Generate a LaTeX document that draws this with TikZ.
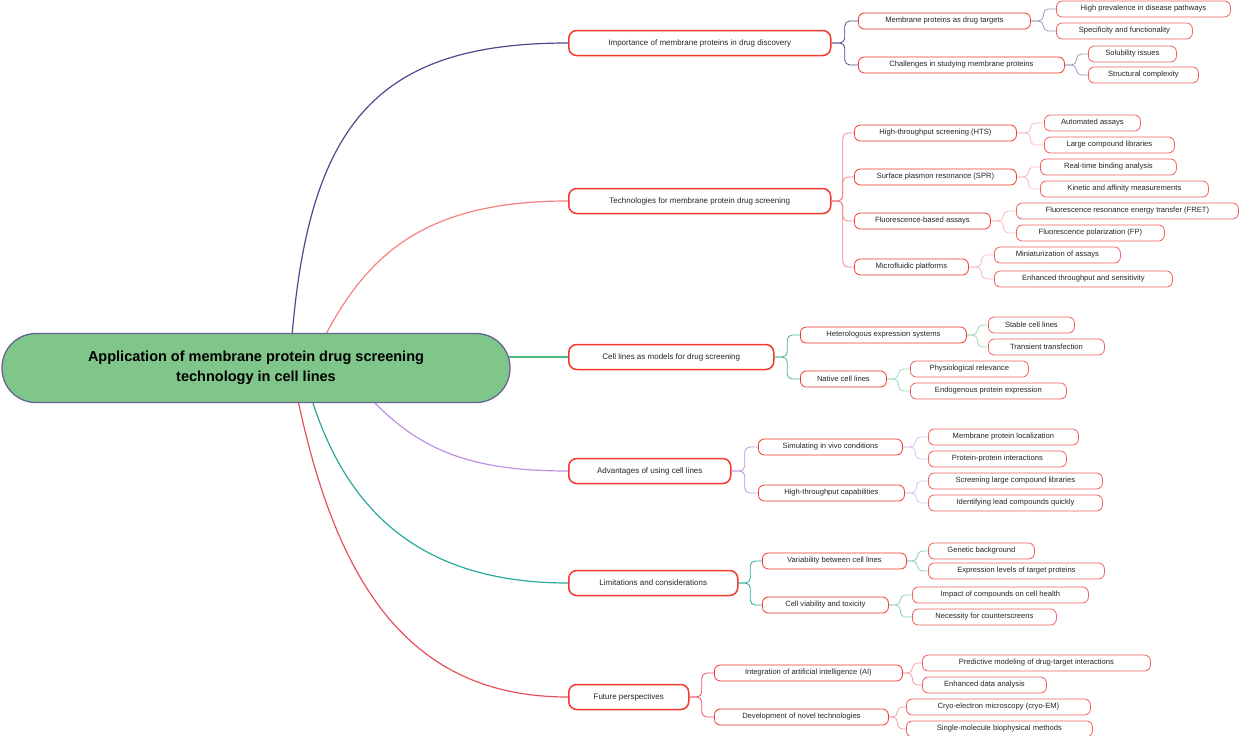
\documentclass[tikz,border=0pt]{standalone}
\usepackage{fontspec}
\setmainfont{Liberation Sans}
\usetikzlibrary{calc}
\definecolor{cA}{HTML}{4A4A8F}\definecolor{cB}{HTML}{F88080}\definecolor{cC}{HTML}{4CBB7F}
\definecolor{cD}{HTML}{C090E0}\definecolor{cE}{HTML}{2AA89A}\definecolor{cF}{HTML}{E85060}
\definecolor{bred}{HTML}{F23A2E}\definecolor{pred}{HTML}{F06060}
\tikzset{
 base/.style={anchor=west,fill=white,inner sep=1pt,font=\fontsize{7.6}{9}\selectfont,text=black!85},
 l1/.style={base,draw=bred,line width=1.5pt,rounded corners=8pt,minimum height=25pt,font=\fontsize{8}{9}\selectfont},
 l2/.style={base,draw=bred,line width=0.8pt,rounded corners=6pt,minimum height=16pt},
 l3/.style={base,draw=pred,line width=0.8pt,rounded corners=6pt,minimum height=16pt},
 root/.style={draw=black!70!blue!60,line width=1.3pt,fill=green!45!black!30!white,fill={rgb,255:red,128;green,197;blue,138},rounded corners=34pt,minimum width=508pt,minimum height=69pt,align=center,font=\fontsize{14.5}{20}\selectfont\bfseries},
 lk/.style={line width=1.2pt},
}
\newcommand\nd[6]{\node[#1,minimum width=#5pt-#3pt] (#2) at (#3,#4) {#6};}
\newcommand\br[3]{\draw[#1,line width=0.8pt,rounded corners=5pt] (#2.east) -- ($(#2.east)!0.5!(#2.east -| #3.west)$) |- (#3.west);}
\begin{document}
\begin{tikzpicture}[x=1pt,y=-1pt]
\useasboundingbox (0,0) rectangle (1240,736);
% connectors root
\draw[cA,lk] (292,336) .. controls (310,120) and (380,43) .. (568,43);
\draw[cB,lk] (325,336) .. controls (370,250) and (430,201) .. (568,201);
\draw[cC,lk] (508,357) .. controls (540,357) .. (568,357);
\draw[cD,lk] (372,400) .. controls (420,450) and (470,471) .. (568,471);
\draw[cE,lk] (312,400) .. controls (350,520) and (430,583) .. (568,583);
\draw[cF,lk] (298,400) .. controls (340,600) and (420,697) .. (568,697);
\node[root] (R) at (256,368) {Application of membrane protein drug screening\\technology in cell lines};
% level 1
\nd{l1}{A}{568}{43}{830}{Importance of membrane proteins in drug discovery}
\nd{l1}{B}{568}{201}{830}{Technologies for membrane protein drug screening}
\nd{l1}{C}{568}{357}{773}{Cell lines as models for drug screening}
\nd{l1}{D}{568}{471}{730}{Advantages of using cell lines}
\nd{l1}{E}{568}{583}{737}{Limitations and considerations}
\nd{l1}{F}{568}{697}{688}{Future perspectives}
% level 2
\nd{l2}{A1}{858}{21}{1030}{Membrane proteins as drug targets}
\nd{l2}{A2}{858}{65}{1064}{Challenges in studying membrane proteins}
\nd{l2}{B1}{854}{133}{1016}{High-throughput screening (HTS)}
\nd{l2}{B2}{854}{177}{1016}{Surface plasmon resonance (SPR)}
\nd{l2}{B3}{854}{221}{990}{Fluorescence-based assays}
\nd{l2}{B4}{854}{267}{968}{Microfluidic platforms}
\nd{l2}{C1}{800}{335}{966}{Heterologous expression systems}
\nd{l2}{C2}{800}{379}{886}{Native cell lines}
\nd{l2}{D1}{758}{447}{902}{Simulating in vivo conditions}
\nd{l2}{D2}{758}{493}{904}{High-throughput capabilities}
\nd{l2}{E1}{762}{561}{906}{Variability between cell lines}
\nd{l2}{E2}{762}{605}{888}{Cell viability and toxicity}
\nd{l2}{F1}{714}{673}{902}{Integration of artificial intelligence (AI)}
\nd{l2}{F2}{714}{717}{888}{Development of novel technologies}
% level 3
\nd{l3}{A1a}{1056}{9}{1230}{High prevalence in disease pathways}
\nd{l3}{A1b}{1056}{31}{1192}{Specificity and functionality}
\nd{l3}{A2a}{1088}{54}{1176}{Solubility issues}
\nd{l3}{A2b}{1088}{75}{1198}{Structural complexity}
\nd{l3}{B1a}{1044}{123}{1140}{Automated assays}
\nd{l3}{B1b}{1044}{145}{1174}{Large compound libraries}
\nd{l3}{B2a}{1040}{167}{1176}{Real-time binding analysis}
\nd{l3}{B2b}{1040}{189}{1208}{Kinetic and affinity measurements}
\nd{l3}{B3a}{1016}{211}{1238}{Fluorescence resonance energy transfer (FRET)}
\nd{l3}{B3b}{1016}{233}{1164}{Fluorescence polarization (FP)}
\nd{l3}{B4a}{994}{255}{1120}{Miniaturization of assays}
\nd{l3}{B4b}{994}{279}{1172}{Enhanced throughput and sensitivity}
\nd{l3}{C1a}{988}{325}{1074}{Stable cell lines}
\nd{l3}{C1b}{988}{347}{1104}{Transient transfection}
\nd{l3}{C2a}{910}{369}{1028}{Physiological relevance}
\nd{l3}{C2b}{910}{391}{1066}{Endogenous protein expression}
\nd{l3}{D1a}{928}{437}{1078}{Membrane protein localization}
\nd{l3}{D1b}{928}{459}{1066}{Protein-protein interactions}
\nd{l3}{D2a}{928}{481}{1102}{Screening large compound libraries}
\nd{l3}{D2b}{928}{503}{1102}{Identifying lead compounds quickly}
\nd{l3}{E1a}{928}{551}{1034}{Genetic background}
\nd{l3}{E1b}{928}{571}{1104}{Expression levels of target proteins}
\nd{l3}{E2a}{912}{595}{1088}{Impact of compounds on cell health}
\nd{l3}{E2b}{912}{617}{1056}{Necessity for counterscreens}
\nd{l3}{F1a}{922}{663}{1150}{Predictive modeling of drug-target interactions}
\nd{l3}{F1b}{922}{685}{1046}{Enhanced data analysis}
\nd{l3}{F2a}{906}{707}{1090}{Cryo-electron microscopy (cryo-EM)}
\nd{l3}{F2b}{906}{729}{1092}{Single-molecule biophysical methods}
% brackets
\foreach \p/\c/\k in {A/cA/2,B/cB/4,C/cC/2,D/cD/2,E/cE/2,F/cF/2}{
  \foreach \i in {1,...,\k}{ \br{\c}{\p}{\p\i}
    \br{\c!55}{\p\i}{\p\i a} \br{\c!55}{\p\i}{\p\i b} }}
\end{tikzpicture}
\end{document}
